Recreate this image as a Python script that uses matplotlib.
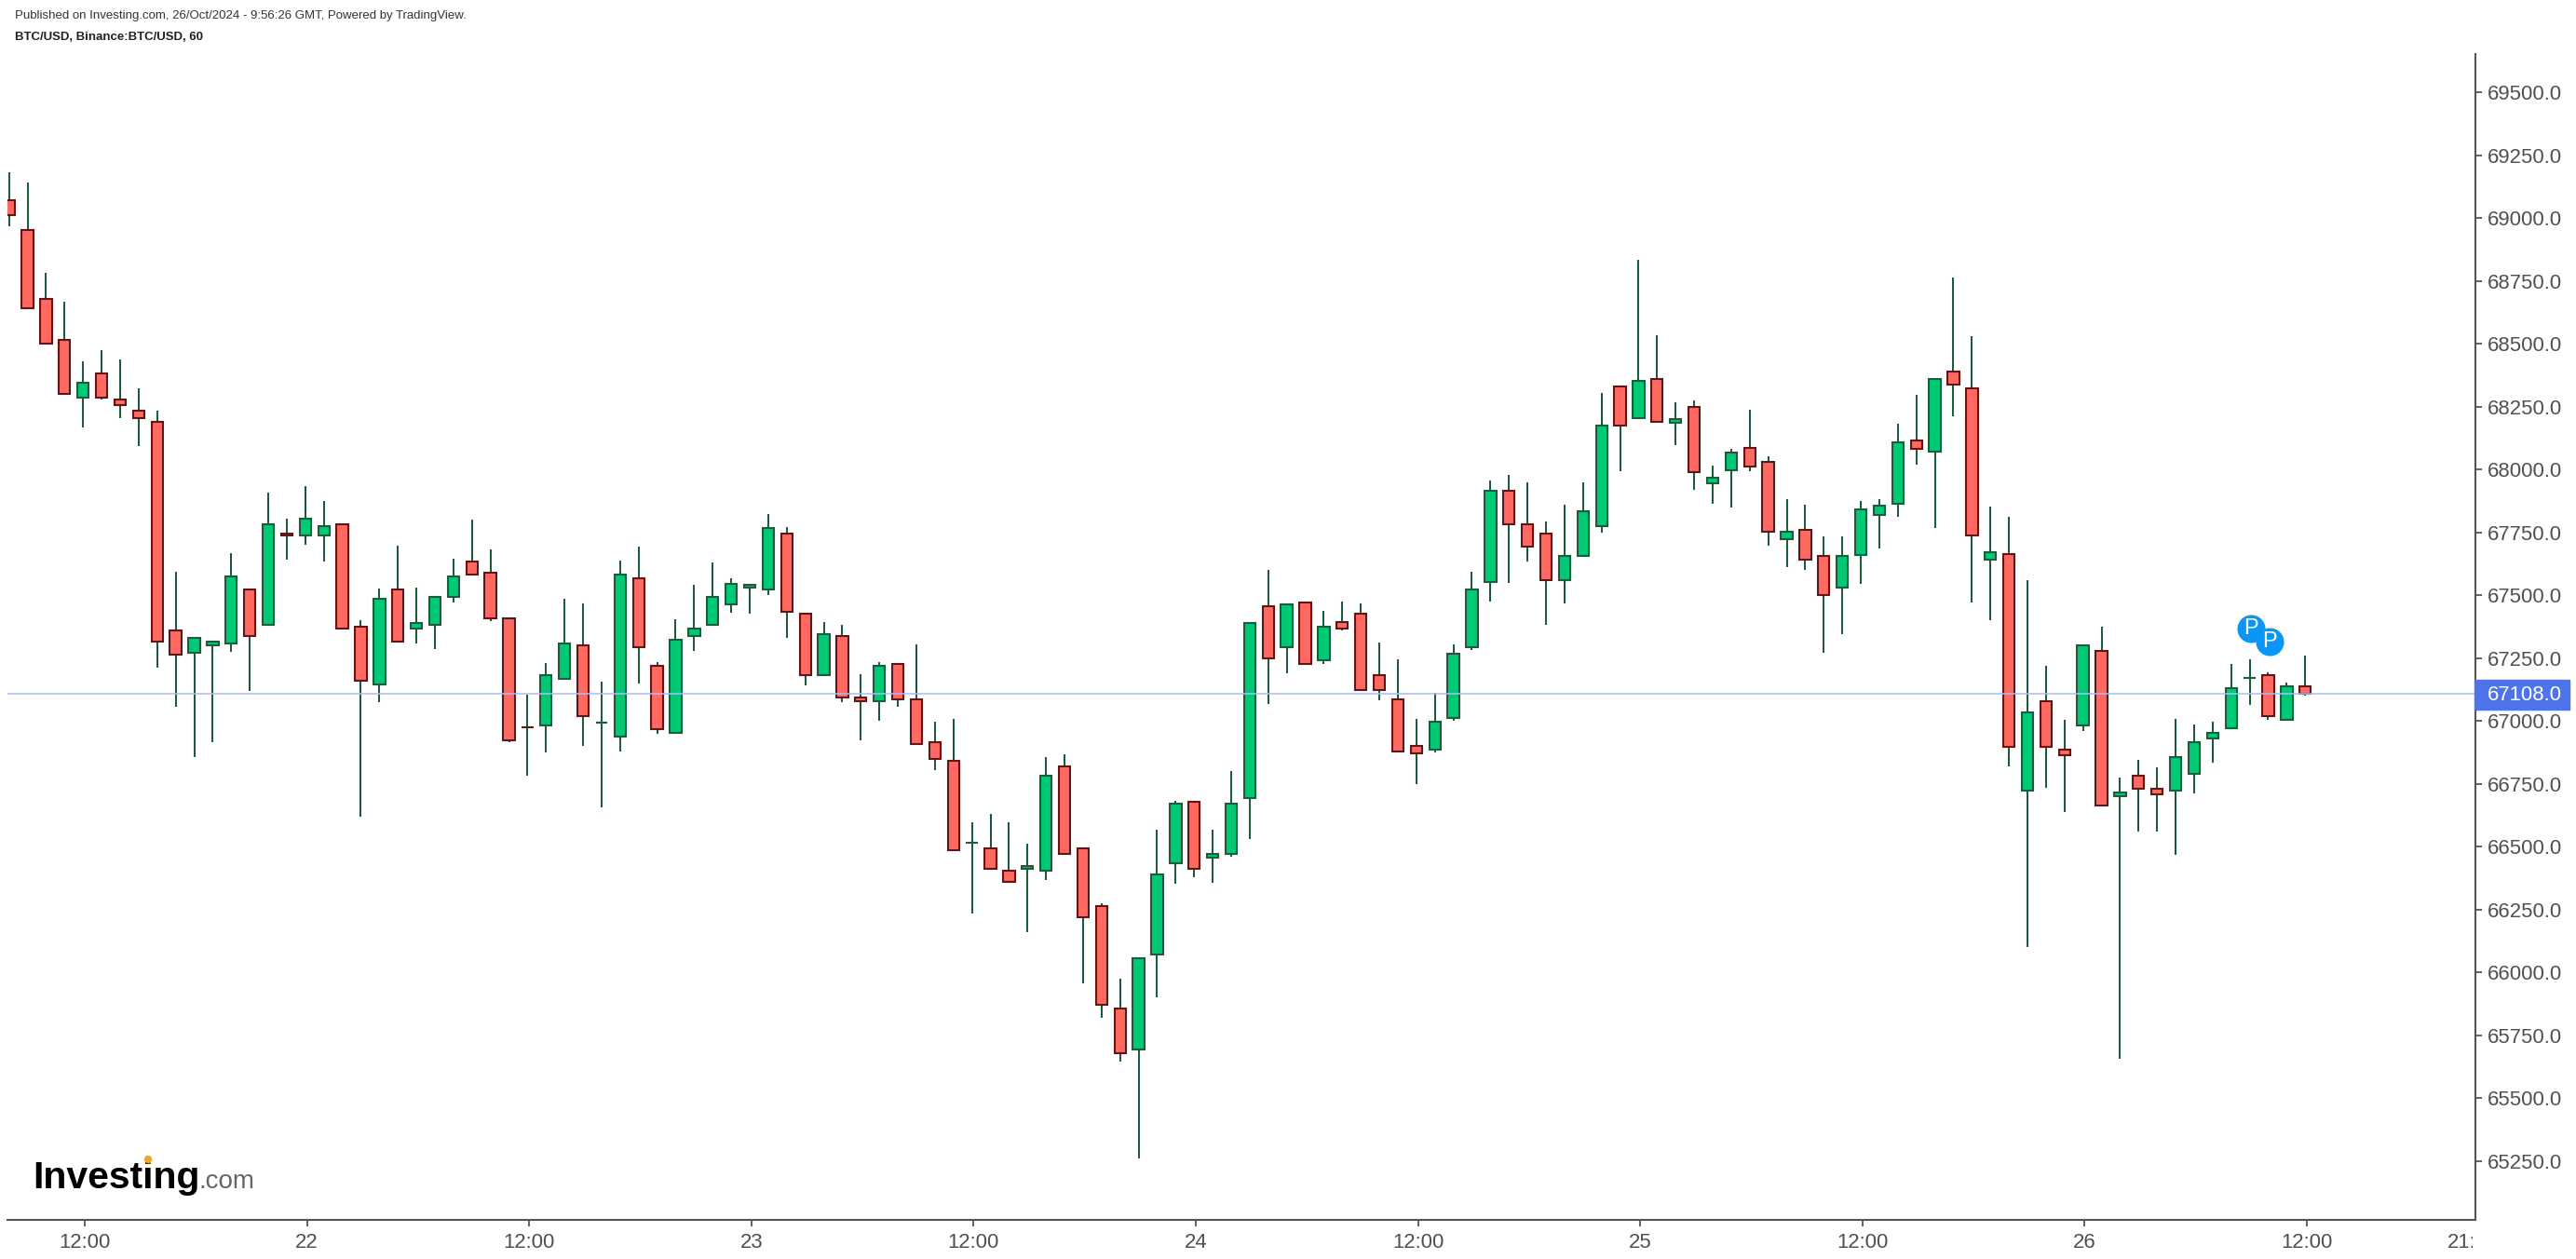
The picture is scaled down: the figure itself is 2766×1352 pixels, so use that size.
#!/usr/bin/env python3
"""BTC/USD hourly candles, Investing.com / TradingView look."""

import matplotlib

matplotlib.use("Agg")
import matplotlib.pyplot as plt
from matplotlib.patches import Circle
from matplotlib.transforms import Bbox

plt.rcParams["font.family"] = ["Liberation Sans", "DejaVu Sans"]

# hourly candles, first one is 21 Oct 08:00 (hours counted from 21 Oct 00:00)
FIRST_HOUR = 8
DIRECTIONS = (
    "RRRRGRRRRR" "GGGRGRGGRR" "GRGGGRRRRG" "GRGGRRGGGG" "GGRRGRRGRR"
    "RRGRRGGRRR" "RGGGRGGGRG" "RGRRRRRGGG" "GRRRGGGRGR" "GRGGRRGRRG"
    "GGGRGRRGRG" "RRGRGRRGGG" "GGRGR"
)
HIGHS = [
    69183, 69140, 68783, 68666, 68428, 68473, 68437, 68324, 68235, 67591,
    67329, 67316, 67665, 67523, 67909, 67805, 67933, 67873, 67782, 67399,
    67525, 67695, 67531, 67493, 67644, 67799, 67680, 67406, 67104, 67229,
    67486, 67465, 67155, 67636, 67694, 67235, 67405, 67540, 67628, 67568,
    67540, 67821, 67769, 67425, 67391, 67383, 67184, 67235, 67226, 67303,
    66998, 67006, 66598, 66628, 66598, 66510, 66857, 66865, 66492, 66273,
    65975, 66056, 66568, 66680, 66678, 66568, 66799, 67389, 67599, 67464,
    67472, 67437, 67473, 67466, 67311, 67243, 67007, 67111, 67303, 67592,
    67954, 67977, 67948, 67791, 67859, 67948, 68303, 68330, 68835, 68533,
    68266, 68273, 68014, 68080, 68237, 68051, 67880, 67859, 67733, 67733,
    67873, 67880, 68183, 68295, 68362, 68764, 68531, 67851, 67813, 67561,
    67220, 67005, 67299, 67375, 66776, 66843, 66814, 67007, 66987, 66998,
    67227, 67243, 67191, 67153, 67261,
]
BODY_TOPS = [
    69070, 68953, 68679, 68515, 68345, 68381, 68277, 68233, 68190, 67359,
    67329, 67316, 67574, 67523, 67782, 67746, 67803, 67773, 67782, 67374,
    67484, 67523, 67389, 67493, 67574, 67633, 67588, 67406, 66976, 67182,
    67308, 67299, 66991, 67582, 67566, 67218, 67323, 67367, 67494, 67544,
    67540, 67767, 67745, 67425, 67345, 67337, 67092, 67218, 67226, 67086,
    66915, 66841, 66516, 66492, 66403, 66421, 66781, 66819, 66492, 66263,
    65855, 66056, 66389, 66670, 66678, 66469, 66670, 67389, 67457, 67464,
    67472, 67375, 67391, 67427, 67183, 67087, 66901, 66997, 67265, 67524,
    67916, 67916, 67782, 67745, 67656, 67834, 68175, 68330, 68353, 68361,
    68200, 68249, 67968, 68065, 68086, 68028, 67753, 67761, 67656, 67656,
    67842, 67855, 68107, 68116, 68360, 68389, 68324, 67671, 67662, 67034,
    67077, 66886, 67299, 67279, 66715, 66780, 66729, 66854, 66915, 66951,
    67130, 67169, 67182, 67137, 67137,
]
BODY_BOTTOMS = [
    69013, 68641, 68501, 68301, 68284, 68284, 68256, 68205, 67316, 67263,
    67272, 67299, 67308, 67338, 67382, 67737, 67737, 67737, 67367, 67161,
    67146, 67316, 67367, 67382, 67493, 67582, 67406, 66923, 66976, 66983,
    67168, 67019, 66991, 66937, 67293, 66967, 66951, 67337, 67381, 67463,
    67530, 67522, 67433, 67182, 67182, 67094, 67078, 67078, 67086, 66907,
    66849, 66486, 66516, 66411, 66359, 66411, 66403, 66471, 66218, 65871,
    65678, 65692, 66070, 66433, 66411, 66455, 66471, 66692, 67248, 67291,
    67226, 67240, 67366, 67122, 67122, 66878, 66870, 66885, 67011, 67291,
    67552, 67782, 67693, 67559, 67559, 67655, 67774, 68174, 68203, 68189,
    68187, 67989, 67945, 67996, 68011, 67751, 67722, 67641, 67500, 67529,
    67658, 67819, 67864, 68080, 68071, 68338, 67739, 67642, 66895, 66724,
    66895, 66863, 66982, 66664, 66702, 66731, 66709, 66724, 66789, 66931,
    66969, 67169, 67020, 67005, 67108,
]
LOWS = [
    68966, 68641, 68501, 68301, 68167, 68277, 68203, 68092, 67210, 67055,
    66855, 66915, 67276, 67119, 67382, 67640, 67699, 67633, 67367, 66617,
    67076, 67316, 67306, 67284, 67469, 67582, 67395, 66915, 66781, 66876,
    67168, 66900, 66655, 66877, 67150, 66949, 66951, 67277, 67381, 67431,
    67425, 67500, 67329, 67142, 67182, 67076, 66921, 67002, 67054, 66907,
    66803, 66486, 66233, 66411, 66359, 66158, 66365, 66471, 65957, 65817,
    65646, 65261, 65899, 66351, 66379, 66357, 66461, 66528, 67068, 67188,
    67226, 67225, 67358, 67122, 67083, 66878, 66750, 66876, 67002, 67283,
    67475, 67550, 67632, 67380, 67467, 67655, 67750, 67994, 68203, 68189,
    68098, 67920, 67862, 67847, 67994, 67698, 67610, 67602, 67269, 67343,
    67543, 67685, 67810, 68017, 67765, 68210, 67469, 67402, 66819, 66100,
    66735, 66639, 66958, 66664, 65654, 66558, 66558, 66468, 66713, 66832,
    66969, 67063, 67003, 67005, 67101,
]

LAST_PRICE = 67108.0
Y_TICKS = [65250 + 250 * n for n in range(18)]
X_TICK_HOURS = [12, 24, 36, 48, 60, 72, 84, 96, 108, 120, 132, 141]
X_TICK_LABELS = ["12:00", "22", "12:00", "23", "12:00", "24", "12:00", "25", "12:00", "26", "12:00", "21:00"]

# the two "P" event bubbles over the last candles
P_HOURS = [129.0, 130.0]
P_PRICES = [67367, 67315]

GREEN = "#00c975"
RED = "#ff6961"
GREEN_EDGE = "#1c5c3c"
RED_EDGE = "#5e1616"
AXIS_COLOR = "#555555"
TEXT_COLOR = "#505050"

W, H = 2766, 1352
# candles sit a touch left of their tick in the original
CANDLE_SHIFT = -0.09


fig = plt.figure(figsize=(W / 100, H / 100), dpi=100, facecolor="white")
ax = fig.add_axes([8 / W, 1 - 1310 / H, 2650 / W, 1252 / H])

hours = [FIRST_HOUR + i + CANDLE_SHIFT for i in range(len(HIGHS))]
ax.vlines(hours, LOWS, HIGHS, color=GREEN_EDGE, linewidth=1.45, zorder=2)
ax.bar(
    hours,
    [t - b for t, b in zip(BODY_TOPS, BODY_BOTTOMS)],
    bottom=BODY_BOTTOMS,
    width=0.62,
    color=[GREEN if d == "G" else RED for d in DIRECTIONS],
    edgecolor=[GREEN_EDGE if d == "G" else RED_EDGE for d in DIRECTIONS],
    linewidth=1.5,
    zorder=3,
)

ax.plot([7.8, 141.0], [LAST_PRICE, LAST_PRICE], color="#a9bdf6", alpha=0.85, linewidth=1.3, zorder=4)

# P bubbles, later one on top
for n, (h, p) in enumerate(zip(P_HOURS, P_PRICES)):
    ax.scatter([h], [p], s=470, color="#0a96f5", zorder=5 + n, linewidths=0)
    ax.text(h, p, "P", color="white", fontsize=17, ha="center", va="center", zorder=5 + n)

ax.set_xlim(7.826, 141.1)
ax.set_ylim(65015, 69652)
for side in ("left", "top"):
    ax.spines[side].set_visible(False)
for side in ("right", "bottom"):
    ax.spines[side].set_color(AXIS_COLOR)
    ax.spines[side].set_linewidth(1.5)

ax.yaxis.tick_right()
ax.set_yticks(Y_TICKS)
ax.set_yticklabels([f"{v:.1f}" for v in Y_TICKS])
ax.set_xticks(X_TICK_HOURS)
ax.set_xticklabels(X_TICK_LABELS)
ax.tick_params(axis="both", length=5, width=1.3, color=AXIS_COLOR, labelcolor=TEXT_COLOR, labelsize=15.9)
ax.tick_params(axis="y", pad=4)
ax.tick_params(axis="x", pad=5)

# last x label runs into the price scale and gets cut off there
xticks = ax.xaxis.get_major_ticks()
xticks[-1].tick1line.set_visible(False)
xticks[-1].label1.set_clip_on(True)
xticks[-1].label1.set_clip_box(Bbox([[0, 0], [2655, 60]]))

# last price tag
fig.patches.append(
    plt.Rectangle((2657 / W, 1 - 762 / H), 102 / W, 32 / H, transform=fig.transFigure, color="#4f73e8", zorder=6)
)
fig.text(2671 / W, 1 - 747 / H, f"{LAST_PRICE:.1f}", color="white", fontsize=15.9, va="center", zorder=7)
ax.plot([141.1, 141.8], [LAST_PRICE, LAST_PRICE], color="white", linewidth=1.2, clip_on=False, zorder=8)

# header
fig.text(16.5 / W, 1 - 17 / H, "Published on Investing.com, 26/Oct/2024 - 9:56:26 GMT, Powered by TradingView.",
         fontsize=9.55, color="#333333", va="center")
fig.text(15.5 / W, 1 - 40 / H, "BTC/USD, Binance:BTC/USD, 60", fontsize=9.55, color="#222222", fontweight="bold", va="center")

# watermark
fig.text(35 / W, 1 - 1276 / H, "Investing", fontsize=29.5, fontweight="bold", color="black", va="baseline")
fig.text(213 / W, 1 - 1276 / H, ".com", fontsize=20, color="#666666", va="baseline")
fig.patches.append(Circle((159, H - 1245), 3.5, transform=None, color="#f5a623", zorder=6))

fig.savefig("out.png", dpi=100, facecolor="white")
